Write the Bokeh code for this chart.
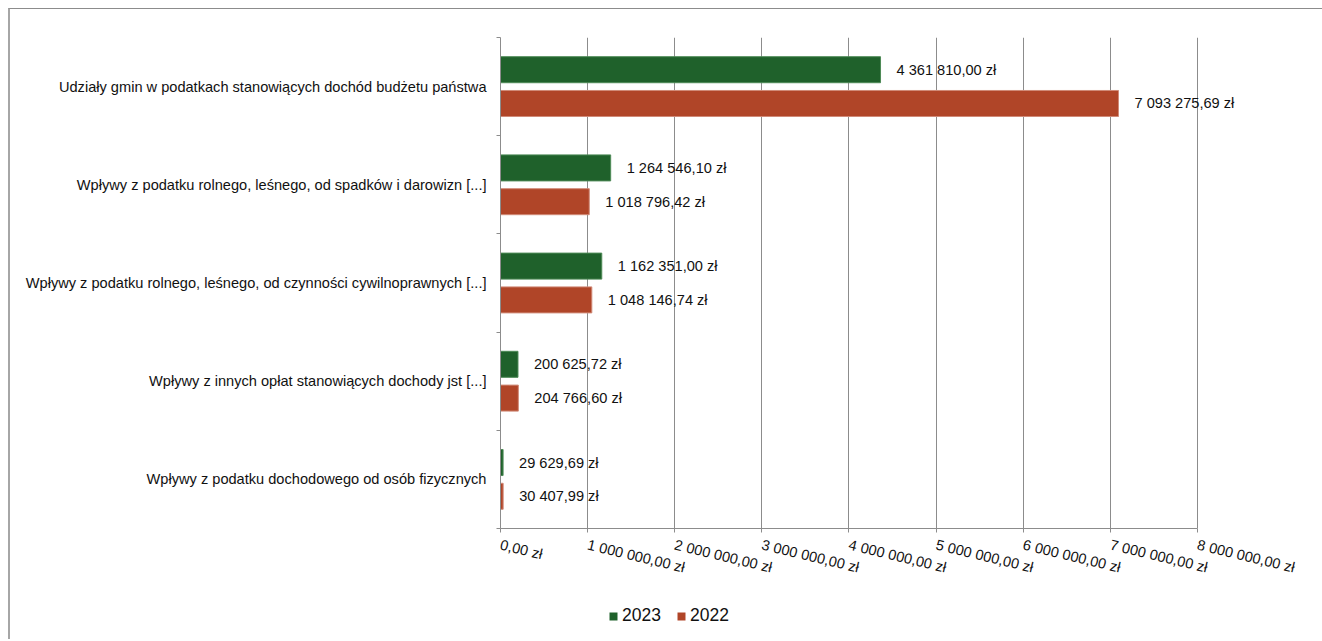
from bokeh.plotting import figure
from bokeh.layouts import column
from bokeh.models import ColumnDataSource, FixedTicker, Legend, LegendItem, LabelSet, Range1d
from bokeh.core.properties import value
from bokeh.embed import file_html
from bokeh.resources import INLINE

categories = [
    "Udziały gmin w podatkach stanowiących dochód budżetu państwa",
    "Wpływy z podatku rolnego, leśnego, od spadków i darowizn [...]",
    "Wpływy z podatku rolnego, leśnego, od czynności cywilnoprawnych [...]",
    "Wpływy z innych opłat stanowiących dochody jst [...]",
    "Wpływy z podatku dochodowego od osób fizycznych",
]
series_names = ["2023", "2022"]
values_2023 = [4361810.00, 1264546.10, 1162351.00, 200625.72, 29629.69]
values_2022 = [7093275.69, 1018796.42, 1048146.74, 204766.60, 30407.99]
x_ticks = [0, 1000000, 2000000, 3000000, 4000000, 5000000, 6000000, 7000000, 8000000]
x_tick_labels = ["0,00 zł", "1 000 000,00 zł", "2 000 000,00 zł", "3 000 000,00 zł",
                 "4 000 000,00 zł", "5 000 000,00 zł", "6 000 000,00 zł",
                 "7 000 000,00 zł", "8 000 000,00 zł"]

GREEN = "#1F612B"
RED = "#B04528"
FONT = "Liberation Sans"
X_VIEW_MAX = 9320000  # visible room to the right of the 8 mln axis end (for labels)


def fmt(v):
    return f"{v:,.2f}".replace(",", " ").replace(".", ",") + " zł"


n = len(categories)
centers = [n - 0.5 - i for i in range(n)]
bar_h = 0.265
off = 0.172

src23 = ColumnDataSource(dict(y=[c + off for c in centers], v=values_2023,
                              lbl=[fmt(v) for v in values_2023]))
src22 = ColumnDataSource(dict(y=[c - off for c in centers], v=values_2022,
                              lbl=[fmt(v) for v in values_2022]))

p = figure(width=1312, height=580, output_backend="svg", toolbar_location=None,
           x_range=Range1d(0, X_VIEW_MAX), y_range=Range1d(0, n),
           min_border_left=490, min_border_right=10, min_border_top=28, min_border_bottom=61)
p.outline_line_color = None
p.background_fill_color = "white"
p.border_fill_color = "white"

p.hbar(y="y", right="v", left=0, height=bar_h, source=src23,
       fill_color=GREEN, line_color="#4E8A57", line_width=1)
p.hbar(y="y", right="v", left=0, height=bar_h, source=src22,
       fill_color=RED, line_color="#D08A78", line_width=1)

for s in (src23, src22):
    p.add_layout(LabelSet(x="v", y="y", text="lbl", source=s, x_offset=16,
                          text_baseline="middle", text_align="left",
                          text_font=value(FONT), text_font_size="14.6px",
                          text_color="#111111"))

# x axis
p.xaxis.bounds = (0, 8000000)
p.xaxis.ticker = FixedTicker(ticks=x_ticks)
p.xaxis.major_label_overrides = {t: l for t, l in zip(x_ticks, x_tick_labels)}
p.xaxis.major_label_orientation = -0.235
p.xaxis.major_label_text_font = FONT
p.xaxis.major_label_text_font_size = "14.6px"
p.xaxis.major_label_text_color = "#111111"
p.xaxis.major_label_standoff = 12
p.xaxis.axis_line_color = "#8c8c8c"
p.xaxis.major_tick_line_color = "#8c8c8c"
p.xaxis.major_tick_in = 0
p.xaxis.major_tick_out = 4
p.xaxis.minor_tick_line_color = None

# y axis
p.yaxis.ticker = FixedTicker(ticks=centers, minor_ticks=list(range(n + 1)))
p.yaxis.major_label_overrides = {c: cat for c, cat in zip(centers, categories)}
p.yaxis.major_label_text_font = FONT
p.yaxis.major_label_text_font_size = "14.6px"
p.yaxis.major_label_text_color = "#111111"
p.yaxis.major_label_standoff = 10
p.yaxis.major_tick_line_color = None
p.yaxis.major_tick_in = 0
p.yaxis.major_tick_out = 0
p.yaxis.minor_tick_line_color = "#8c8c8c"
p.yaxis.minor_tick_in = 0
p.yaxis.minor_tick_out = 4
p.yaxis.axis_line_color = "#8c8c8c"

p.xgrid.grid_line_color = "#8c8c8c"
p.xgrid.grid_line_width = 1
p.ygrid.grid_line_color = None

# legend strip below the chart (its frame is aligned with the chart frame by the column)
lf = figure(width=1312, height=50, output_backend="svg", toolbar_location=None,
            x_range=Range1d(0, 1), y_range=Range1d(0, 1),
            x_axis_type=None, y_axis_type=None,
            min_border_left=0, min_border_right=0, min_border_top=0, min_border_bottom=0)
lf.outline_line_color = None
lf.grid.visible = False
proxy = dict(y=[0.5], v=[0])  # zero-width proxy bars, only for legend swatches
d23 = lf.hbar(y="y", right="v", left=0, height=0.1, source=ColumnDataSource(proxy),
              fill_color=GREEN, line_color=None)
d22 = lf.hbar(y="y", right="v", left=0, height=0.1, source=ColumnDataSource(proxy),
              fill_color=RED, line_color=None)
legend = Legend(items=[LegendItem(label=series_names[0], renderers=[d23]),
                       LegendItem(label=series_names[1], renderers=[d22])],
                orientation="horizontal", location=(108, 13),
                glyph_width=10, glyph_height=10, label_height=18,
                label_standoff=4, spacing=15, padding=0, margin=0,
                border_line_color=None, background_fill_alpha=0,
                label_text_font=FONT, label_text_font_size="17.5px",
                label_text_color="#111111")
lf.add_layout(legend, "center")

layout = column(p, lf, spacing=0)
layout.styles = {"margin-top": "8px", "margin-left": "8px",
                 "border-top": "1px solid #8c8c8c", "border-left": "2px solid #a6a6a6"}

open("out.html", "w").write(file_html(layout, INLINE))
